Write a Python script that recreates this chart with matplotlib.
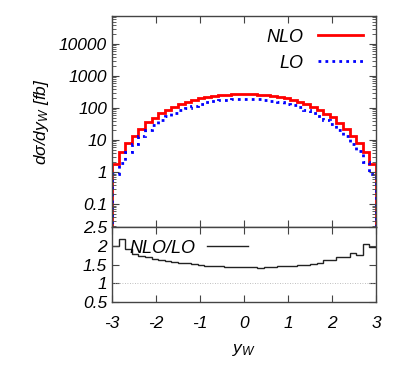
import matplotlib
matplotlib.use("Agg")
import matplotlib.pyplot as plt
import numpy as np

# bin edges in y_W (40 bins of width 0.15)
edges = np.linspace(-3, 3, 41)

# d sigma / d y_W [fb]
nlo = [1.8, 4.3, 7.9, 13.5, 22.4, 35.5, 50.1, 67.6, 87.1, 110, 132, 155, 178, 200, 219, 234, 251, 263, 269, 275,
       276, 270, 262, 252, 235, 218, 199, 178, 156, 131, 109, 87.5, 67, 50.5, 35.2, 22.6, 13.4, 8.0, 4.2, 1.75]
lo = [0.90, 1.97, 4.11, 7.63, 12.95, 20.9, 30.2, 41.5, 54.4, 70.1, 85.2, 101.3, 117.9, 135.1, 150.0, 160.3, 173.1, 182.6, 186.8, 192.3,
      191.7, 188.8, 184.5, 176.2, 163.2, 150.3, 136.3, 121.1, 105.4, 87.3, 72.2, 57.2, 41.4, 31.2, 20.7, 13.3, 7.44, 4.57, 2.06, 0.89]

ratio = np.array(nlo) / np.array(lo)

plt.rcParams['font.family'] = ['Liberation Sans', 'DejaVu Sans']
plt.rcParams['font.style'] = 'italic'
plt.rcParams['font.size'] = 12.5
plt.rcParams['axes.unicode_minus'] = False
plt.rcParams['mathtext.fontset'] = 'custom'
plt.rcParams['mathtext.rm'] = 'Liberation Sans:italic'
plt.rcParams['mathtext.it'] = 'Liberation Sans:italic'

border = '#444444'

fig = plt.figure(figsize=(4.07, 3.70), dpi=100)
ax1 = fig.add_axes([0.275, 0.386, 0.649, 0.571])
ax2 = fig.add_axes([0.275, 0.184, 0.649, 0.202])

# upper panel
ax1.stairs(nlo, edges, baseline=1e-4, color='#ff0000', lw=2, label='NLO')
ax1.stairs(lo, edges, baseline=1e-4, color='#0000ff', lw=2, ls=(0, (1, 1.5)), label='LO')
ax1.set_yscale('log')
ax1.set_xlim(-3, 3)
ax1.set_ylim(0.019, 75000)
ax1.set_yticks([0.1, 1, 10, 100, 1000, 10000])
ax1.set_yticklabels(['0.1', '1', '10', '100', '1000', '10000'])
ax1.set_xticks(range(-3, 4))
ax1.tick_params(labelbottom=False)
ax1.set_ylabel(r'd$\sigma$/dy$_W$ [fb]', labelpad=6)
ax1.legend(loc='upper right', frameon=False, markerfirst=False, handlelength=2.5,
           labelspacing=0.5, fontsize=13, borderaxespad=0.3)

# lower panel
ax2.axhline(1, color='#aaaaaa', lw=0.6, ls=(0, (1, 2)))
ax2.stairs(ratio, edges, baseline=None, color='#222222', lw=1, label='NLO/LO')
ax2.set_xlim(-3, 3)
ax2.set_ylim(0.5, 2.5)
ax2.set_yticks([0.5, 1, 1.5, 2, 2.5])
ax2.set_yticklabels(['0.5', '1', '1.5', '2', '2.5'])
ax2.set_xticks(range(-3, 4))
ax2.set_xlabel('y$_W$', labelpad=8)
ax2.legend(loc='upper left', frameon=False, markerfirst=False, handlelength=2.3,
           handletextpad=0.6, fontsize=13, borderaxespad=0.3, bbox_to_anchor=(0.02, 1.0))

for ax in (ax1, ax2):
    for s in ax.spines.values():
        s.set_color(border)
        s.set_linewidth(1)
    ax.tick_params(which='both', direction='in', top=True, right=True, color=border)
    ax.tick_params(which='major', length=5)
    ax.tick_params(which='minor', length=3)
ax2.minorticks_off()
ax2.tick_params(axis='x', pad=10)

fig.savefig('out.png', dpi=100)
